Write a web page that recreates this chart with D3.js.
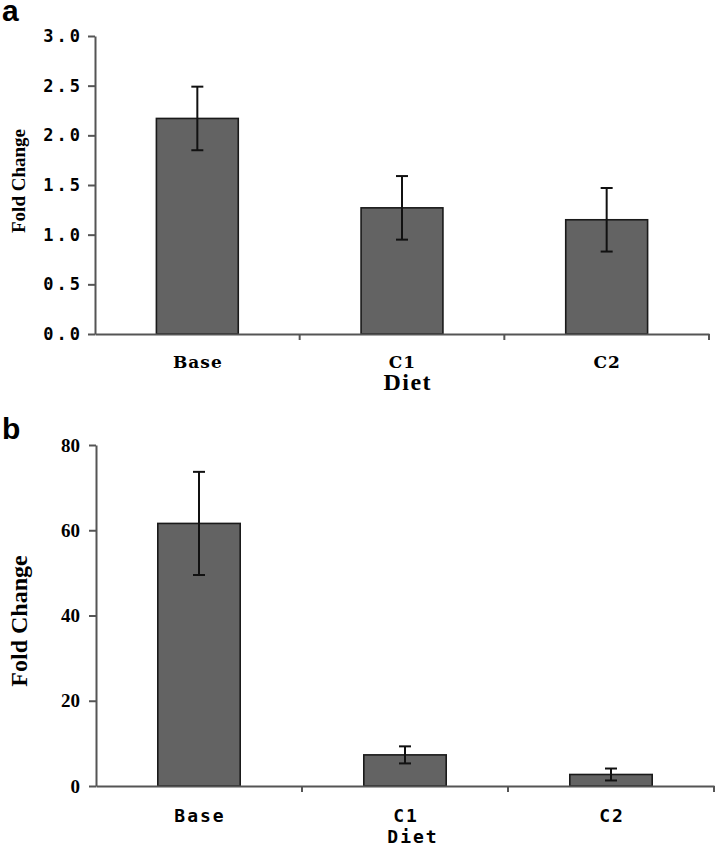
<!DOCTYPE html>
<html>
<head>
<meta charset="utf-8">
<script src="https://cdn.jsdelivr.net/npm/d3@7"></script>
<style>
  body { margin: 0; background: #fff; }
</style>
</head>
<body>
<div id="chart"></div>
<script>
// Data
const dietGroups = ["Base", "C1", "C2"];
const foldChangeA = [2.17, 1.27, 1.15];
const errorA = [0.32, 0.32, 0.32];
const foldChangeB = [61.6, 7.3, 2.7];
const errorB = [12.1, 2.0, 1.4];
const ticksA = [0, 0.5, 1.0, 1.5, 2.0, 2.5, 3.0];
const ticksB = [0, 20, 40, 60, 80];

const WIDTH = 718;
const HEIGHT = 850;
const BAR_FILL = "#636363";
const AXIS_COLOR = "#555";

let svg = d3.select("#chart").append("svg")
  .attr("width", WIDTH).attr("height", HEIGHT)
  .style("background", "#fff");

function drawPanel(opts) {
  let g = svg.append("g");

  let xScale = d3.scaleBand()
    .domain(dietGroups)
    .range([opts.left, opts.right])
    .padding(0);

  let yScale = d3.scaleLinear()
    .domain([0, opts.yMax])
    .range([opts.bottom, opts.top]);

  let bw = xScale.bandwidth();
  let rows = dietGroups.map((d, i) => ({ name: d, value: opts.values[i], err: opts.errors[i] }));

  // bars
  g.selectAll("rect.bar")
    .data(rows)
    .join("rect")
    .attr("class", "bar")
    .attr("x", d => xScale(d.name) + bw * 0.3)
    .attr("width", bw * 0.4)
    .attr("y", d => yScale(d.value))
    .attr("height", d => yScale(0) - yScale(d.value))
    .attr("fill", BAR_FILL)
    .attr("stroke", "#1a1a1a")
    .attr("stroke-width", 1.6);

  // error bars
  let err = g.selectAll("g.err").data(rows).join("g").attr("class", "err")
    .attr("stroke", "#111").attr("stroke-width", 2);
  err.append("line")
    .attr("x1", d => xScale(d.name) + bw / 2).attr("x2", d => xScale(d.name) + bw / 2)
    .attr("y1", d => yScale(d.value + d.err)).attr("y2", d => yScale(d.value - d.err));
  err.append("line")
    .attr("x1", d => xScale(d.name) + bw / 2 - 6).attr("x2", d => xScale(d.name) + bw / 2 + 6)
    .attr("y1", d => yScale(d.value + d.err)).attr("y2", d => yScale(d.value + d.err));
  err.append("line")
    .attr("x1", d => xScale(d.name) + bw / 2 - 6).attr("x2", d => xScale(d.name) + bw / 2 + 6)
    .attr("y1", d => yScale(d.value - d.err)).attr("y2", d => yScale(d.value - d.err));

  // y axis
  let yAxis = d3.axisLeft(yScale)
    .tickValues(opts.ticks)
    .tickSizeInner(7)
    .tickSizeOuter(0)
    .tickPadding(opts.yPad)
    .tickFormat(opts.tickFormat);
  let yg = g.append("g")
    .attr("transform", `translate(${opts.left},0)`)
    .call(yAxis);
  yg.select(".domain").attr("stroke", AXIS_COLOR).attr("stroke-width", 2);
  yg.selectAll(".tick line").attr("stroke", AXIS_COLOR).attr("stroke-width", 2);
  yg.selectAll("text")
    .attr("fill", "#000")
    .style("font-family", opts.yFont)
    .style("font-weight", "bold")
    .style("font-size", opts.yFontSize + "px")
    .style("letter-spacing", opts.yLetter + "px");

  // x axis with labels under each bar
  let xAxis = d3.axisBottom(xScale).tickSizeInner(0).tickSizeOuter(0);
  let xg = g.append("g")
    .attr("transform", `translate(0,${opts.bottom})`)
    .call(xAxis);
  xg.select(".domain").attr("stroke", AXIS_COLOR).attr("stroke-width", 2);
  xg.selectAll(".tick line").remove();
  xg.selectAll("text")
    .attr("y", opts.catOffset)
    .attr("dy", 0)
    .attr("dx", opts.catLetter / 2)
    .attr("fill", "#000")
    .style("font-family", opts.catFont)
    .style("font-weight", "bold")
    .style("font-size", opts.catFontSize + "px")
    .style("letter-spacing", opts.catLetter + "px");

  // separators between categories
  g.selectAll("line.sep")
    .data(dietGroups)
    .join("line")
    .attr("class", "sep")
    .attr("x1", d => xScale(d) + bw).attr("x2", d => xScale(d) + bw)
    .attr("y1", opts.bottom).attr("y2", opts.bottom + 6)
    .attr("stroke", AXIS_COLOR).attr("stroke-width", 2);

  // axis titles
  g.append("text")
    .attr("x", opts.dietX).attr("y", opts.dietY)
    .attr("dx", opts.dietLetter / 2)
    .attr("text-anchor", "middle")
    .style("font-family", opts.dietFont)
    .style("font-weight", "bold")
    .style("font-size", opts.dietFontSize + "px")
    .style("letter-spacing", opts.dietLetter + "px")
    .text("Diet");

  g.append("text")
    .attr("transform", `translate(${opts.yTitleX},${opts.yTitleY}) rotate(-90)`)
    .attr("text-anchor", "middle")
    .style("font-family", "'Liberation Serif', serif")
    .style("font-weight", "bold")
    .style("font-size", opts.yTitleSize + "px")
    .text("Fold Change");

  // panel letter
  g.append("text")
    .attr("x", 2).attr("y", opts.letterY)
    .style("font-family", "'Liberation Sans', Arial, sans-serif")
    .style("font-weight", "bold")
    .style("font-size", "30px")
    .text(opts.letter);
}

drawPanel({
  letter: "a", letterY: 21,
  values: foldChangeA, errors: errorA, ticks: ticksA, yMax: 3,
  left: 95, right: 709, top: 36, bottom: 334,
  tickFormat: d3.format(".1f"),
  yFont: "'DejaVu Sans Mono', monospace", yFontSize: 17, yLetter: 3, yPad: 5,
  catFont: "'DejaVu Serif', serif", catFontSize: 17, catLetter: 1, catOffset: 34,
  dietFont: "'Liberation Serif', serif", dietFontSize: 24, dietLetter: 1.5, dietX: 407, dietY: 390,
  yTitleX: 25, yTitleY: 181, yTitleSize: 19
});

drawPanel({
  letter: "b", letterY: 439,
  values: foldChangeB, errors: errorB, ticks: ticksB, yMax: 80,
  left: 96, right: 714, top: 445, bottom: 786,
  tickFormat: d3.format("d"),
  yFont: "'Liberation Serif', serif", yFontSize: 19, yLetter: 0, yPad: 9,
  catFont: "'DejaVu Sans Mono', monospace", catFontSize: 18, catLetter: 2, catOffset: 36,
  dietFont: "'DejaVu Sans Mono', monospace", dietFontSize: 18, dietLetter: 2, dietX: 412, dietY: 843,
  yTitleX: 27, yTitleY: 621, yTitleSize: 24
});
</script>
</body>
</html>
